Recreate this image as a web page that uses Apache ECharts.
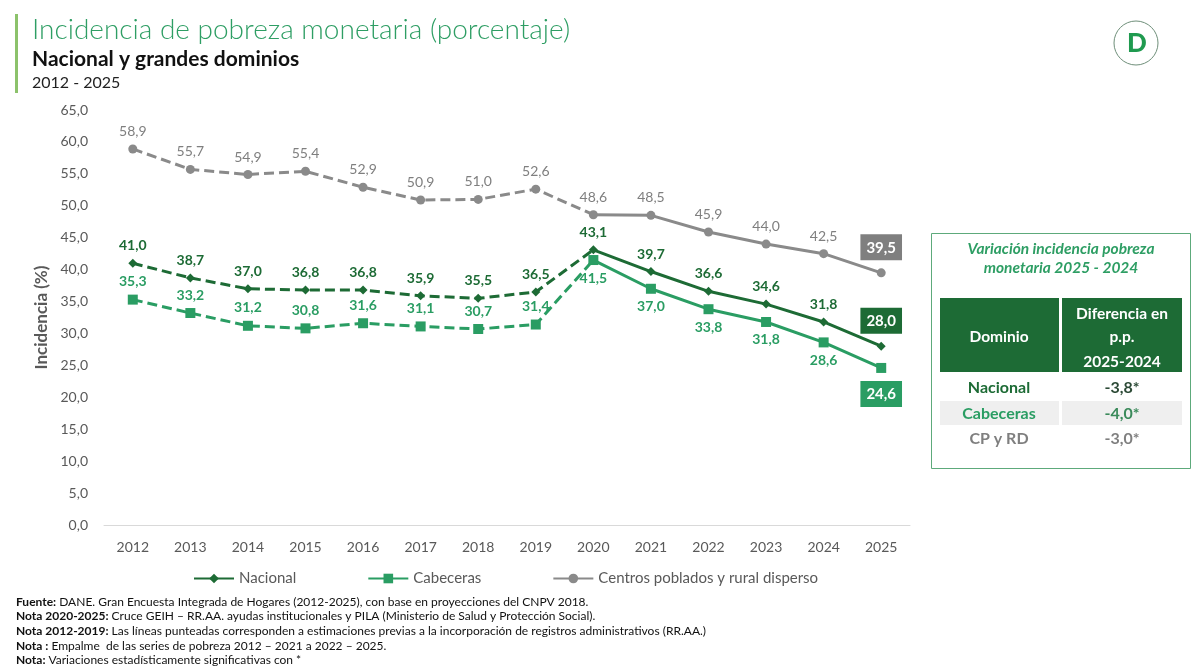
<!DOCTYPE html>
<html>
<head>
<meta charset="utf-8">
<script src="https://cdn.jsdelivr.net/npm/echarts@6/dist/echarts.min.js"></script>
<style>html,body{margin:0;padding:0;background:#fff;}#c{width:1200px;height:670px;}</style>
</head>
<body>
<div id="c"></div>
<script>
var years = ['2012','2013','2014','2015','2016','2017','2018','2019','2020','2021','2022','2023','2024','2025'];
var nacional = [41.0,38.7,37.0,36.8,36.8,35.9,35.5,36.5,43.1,39.7,36.6,34.6,31.8,28.0];
var cabeceras = [35.3,33.2,31.2,30.8,31.6,31.1,30.7,31.4,41.5,37.0,33.8,31.8,28.6,24.6];
var cprd = [58.9,55.7,54.9,55.4,52.9,50.9,51.0,52.6,48.6,48.5,45.9,44.0,42.5,39.5];
var splitIndex = 8; // 2020: start of solid lines
var tableDomains = ['Nacional','Cabeceras','CP y RD'];
var tableDiffs = ['-3,8*','-4,0*','-3,0*'];

var darkGreen = '#1d6b35';
var midGreen = '#2a9d63';
var gray = '#8a8a8a';
var grayText = '#7f7f7f';
var FONT = 'Lato, "Open Sans", sans-serif';

function fmt(v){ return v.toFixed(1).replace('.', ','); }

function dashedData(arr){
  return arr.map(function(v,i){
    if(i > splitIndex) return null;
    if(i === splitIndex) return {value:v, symbol:'none', label:{show:false}};
    return v;
  });
}
function solidData(arr, lastLabel){
  return arr.map(function(v,i){
    if(i < splitIndex) return null;
    if(i === arr.length-1) return {value:v, label:lastLabel};
    return v;
  });
}

function mkSeries(name, arr, color, symbol, symbolSize, labelPos, labelColor, bold, lastLabel, dashedLabelPos, z){
  var baseLabel = {show:true, position:labelPos, distance:6, color:labelColor, fontFamily:FONT,
    fontSize:14, fontWeight: bold ? 'bold' : 'normal', formatter:function(p){return fmt(p.value);} };
  var dl = Object.assign({}, baseLabel, {position:dashedLabelPos});
  return [
    {name:name + ' (2012-2019)', type:'line', data:dashedData(arr), symbol:symbol, symbolSize:symbolSize,
     lineStyle:{color:color, width:3, type:[10,5]}, itemStyle:{color:color}, label:dl, z:z, animation:false},
    {name:name, type:'line', data:solidData(arr, lastLabel), symbol:symbol, symbolSize:symbolSize,
     lineStyle:{color:color, width:3}, itemStyle:{color:color}, label:baseLabel, z:z, animation:false}
  ];
}

var boxLabel = function(bg, pos){
  return {show:true, position:pos, distance:8, backgroundColor:bg, color:'#fff', padding:[6,6,5,6],
    fontWeight:'bold', fontSize:15, fontFamily:FONT, formatter:function(p){return fmt(p.value);}};
};

var series = [].concat(
  mkSeries('Centros poblados y rural disperso', cprd, gray, 'circle', 9, 'top', grayText, false, boxLabel('#7f7f7f','top'), 'top', 2),
  mkSeries('Cabeceras', cabeceras, midGreen, 'rect', 10, 'bottom', midGreen, true, boxLabel(midGreen,'bottom'), 'top', 3),
  mkSeries('Nacional', nacional, darkGreen, 'diamond', 9, 'top', darkGreen, true, boxLabel(darkGreen,'top'), 'top', 4)
);

var footnotes = [
  ['Fuente:', ' DANE. Gran Encuesta Integrada de Hogares (2012-2025), con base en proyecciones del CNPV 2018.'],
  ['Nota 2020-2025:', ' Cruce GEIH – RR.AA. ayudas institucionales y PILA (Ministerio de Salud y Protección Social).'],
  ['Nota 2012-2019:', ' Las líneas punteadas corresponden a estimaciones previas a la incorporación de registros administrativos (RR.AA.)'],
  ['Nota :', ' Empalme  de las series de pobreza 2012 – 2021 a 2022 – 2025.'],
  ['Nota:', ' Variaciones estadísticamente significativas con *']
];

var graphics = [
  {type:'rect', shape:{x:15, y:14, width:3, height:79}, style:{fill:'#8cc26b'}},
  {type:'text', left:32, top:16, style:{text:'Incidencia de pobreza monetaria (porcentaje)', fill:'#2e9e64', font:'300 28px ' + FONT}},
  {type:'text', left:32, top:49, style:{text:'Nacional y grandes dominios', fill:'#111', font:'bold 21px ' + FONT}},
  {type:'text', left:32, top:75, style:{text:'2012 - 2025', fill:'#222', font:'16px ' + FONT}},
  // logo
  {type:'circle', shape:{cx:1136, cy:43, r:22}, style:{fill:'#fff', stroke:'#6f8f7a', lineWidth:1}},
  {type:'text', x:1137, y:44, style:{text:'D', fill:'#1f9a4f', font:'900 26px ' + FONT, align:'center', verticalAlign:'middle'}},
  // table box
  {type:'rect', shape:{x:931.5, y:233.5, width:259, height:235}, style:{fill:'#fff', stroke:'#5daa7b', lineWidth:1}},
  {type:'text', x:1061, y:249, style:{text:'Variación incidencia pobreza', fill:'#2e9e64', font:'italic bold 15.5px ' + FONT, align:'center', verticalAlign:'middle'}},
  {type:'text', x:1061, y:268, style:{text:'monetaria 2025 - 2024', fill:'#2e9e64', font:'italic bold 15.5px ' + FONT, align:'center', verticalAlign:'middle'}},
  {type:'rect', shape:{x:940, y:298, width:119, height:74}, style:{fill:darkGreen}},
  {type:'rect', shape:{x:1062, y:298, width:120, height:74}, style:{fill:darkGreen}},
  {type:'text', x:999, y:337, style:{text:'Dominio', fill:'#fff', font:'bold 15.5px ' + FONT, align:'center', verticalAlign:'middle'}},
  {type:'text', x:1122, y:314, style:{text:'Diferencia en', fill:'#fff', font:'bold 15.5px ' + FONT, align:'center', verticalAlign:'middle'}},
  {type:'text', x:1122, y:337, style:{text:'p.p.', fill:'#fff', font:'bold 15.5px ' + FONT, align:'center', verticalAlign:'middle'}},
  {type:'text', x:1122, y:362, style:{text:'2025-2024', fill:'#fff', font:'bold 15.5px ' + FONT, align:'center', verticalAlign:'middle'}},
  {type:'rect', shape:{x:940, y:401, width:119, height:24}, style:{fill:'#efefef'}},
  {type:'rect', shape:{x:1062, y:401, width:120, height:24}, style:{fill:'#efefef'}}
];
var rowColors = [darkGreen, midGreen, grayText];
var diffColors = ['#2c4a36', '#3a8a5a', grayText];
tableDomains.forEach(function(d,i){
  var y = 388 + i*25.5;
  graphics.push({type:'text', x:999, y:y, style:{text:d, fill:rowColors[i], font:'bold 16px ' + FONT, align:'center', verticalAlign:'middle'}});
  graphics.push({type:'text', x:1122, y:y, style:{text:tableDiffs[i], fill:diffColors[i], font:'bold 16px ' + FONT, align:'center', verticalAlign:'middle'}});
});
footnotes.forEach(function(f,i){
  graphics.push({type:'text', left:16, top:596 + i*14.6, style:{text:'{b|' + f[0] + '}' + f[1], fill:'#111', font:'12px ' + FONT,
    rich:{b:{fontWeight:'bold', fontSize:12, fontFamily:FONT, fill:'#111'}}}});
});

var chart = echarts.init(document.getElementById('c'));
chart.setOption({
  backgroundColor:'#fff',
  animation:false,
  textStyle:{fontFamily:FONT},
  grid:{left:104, right:290, top:110, bottom:145},
  legend:{
    data:['Nacional','Cabeceras','Centros poblados y rural disperso'],
    left:188, top:566, itemWidth:40, itemHeight:12, itemGap:71,
    textStyle:{color:'#595959', fontSize:15, fontFamily:FONT}
  },
  xAxis:{type:'category', data:years, boundaryGap:true,
    axisLine:{lineStyle:{color:'#d9d9d9', width:1}}, axisTick:{show:false},
    axisLabel:{color:'#595959', fontSize:14, margin:15, fontFamily:FONT}},
  yAxis:{type:'value', min:0, max:65, interval:5,
    name:'Incidencia (%)', nameLocation:'middle', nameGap:52, nameRotate:90,
    nameTextStyle:{color:'#595959', fontSize:17, fontWeight:'bold', fontFamily:FONT},
    axisLine:{show:false}, axisTick:{show:false}, splitLine:{show:false},
    axisLabel:{color:'#595959', fontSize:14, margin:16, fontFamily:FONT, formatter:function(v){return fmt(v);}}},
  series:series,
  graphic:graphics
});
</script>
</body>
</html>
